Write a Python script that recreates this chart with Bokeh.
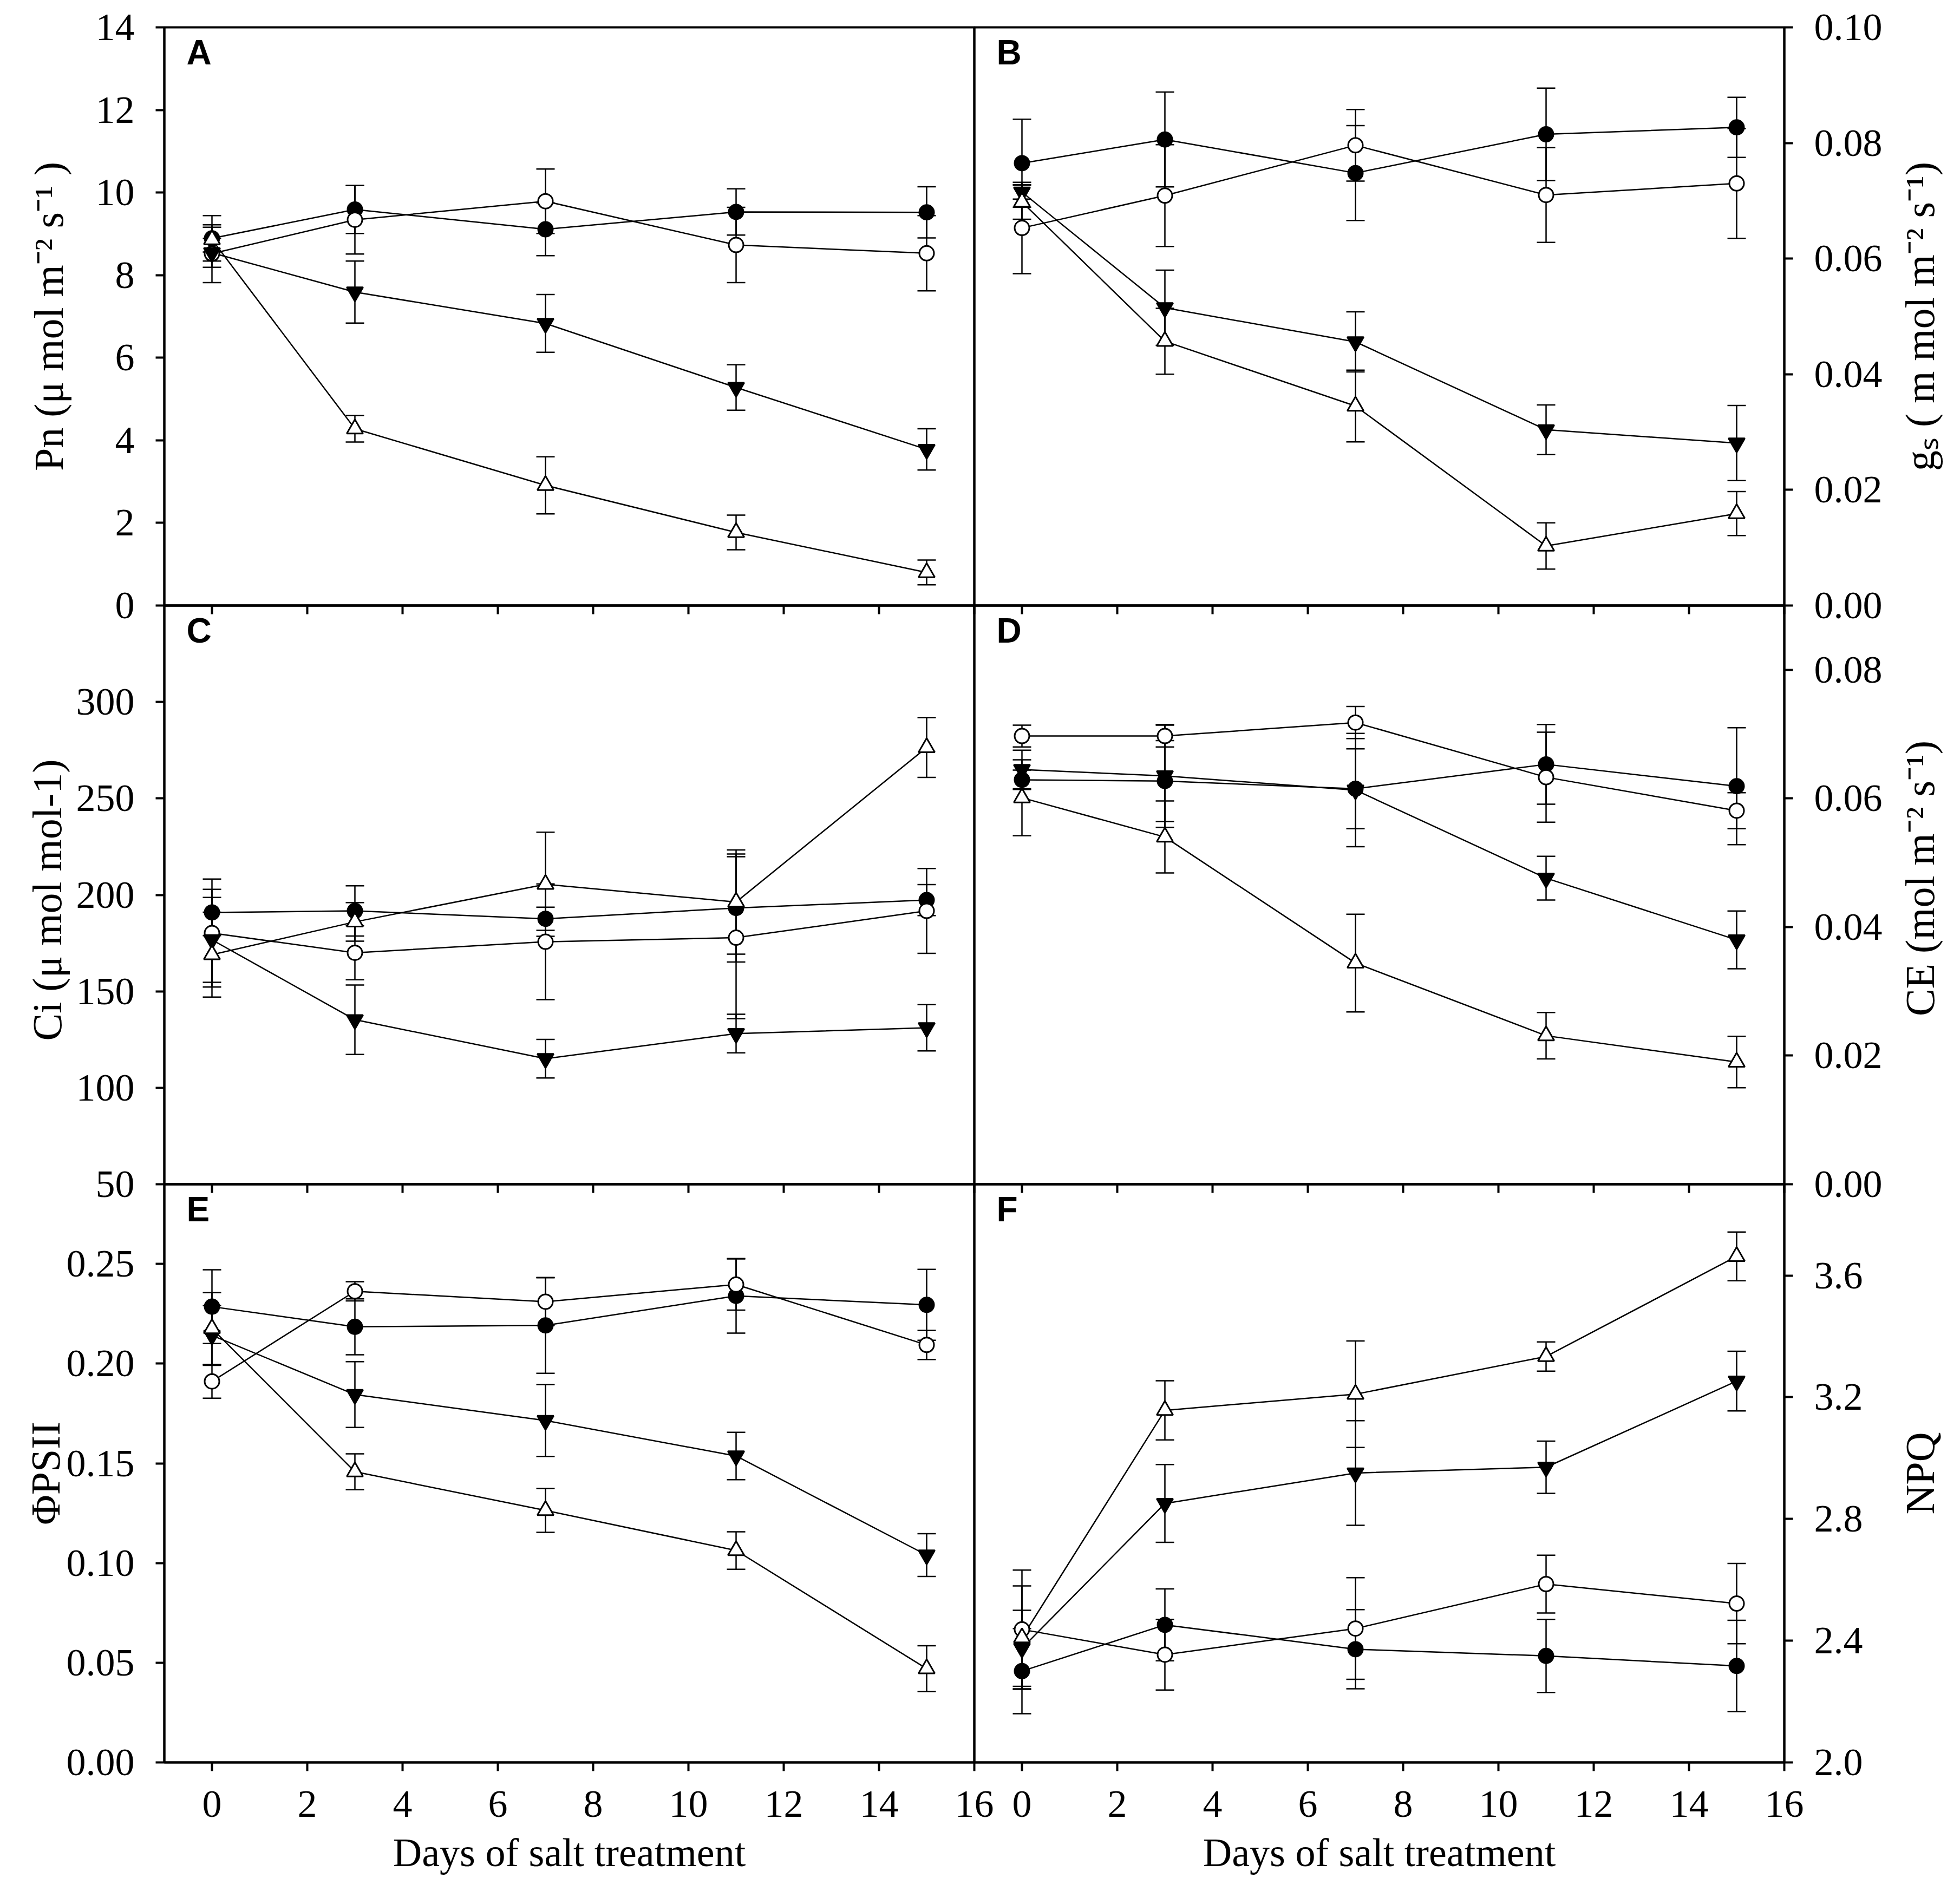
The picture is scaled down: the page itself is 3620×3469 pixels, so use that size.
import math
from bokeh.plotting import figure
from bokeh.models import (ColumnDataSource, Whisker, TeeHead, FixedTicker,
                          PrintfTickFormatter, Label, Range1d, CustomLabelingPolicy)
from bokeh.layouts import row, column
from bokeh.embed import file_html
from bokeh.resources import INLINE

# ---------------- data ----------------
DAYS = [0, 3, 7, 11, 15]
X_TICKS = [0, 2, 4, 6, 8, 10, 12, 14, 16]
X_START, X_END = -1, 16
X_LABEL = "Days of salt treatment"

# Pn
pn_fc = [8.89, 9.59, 9.11, 9.53, 9.52]
pn_fc_err = [0.55, 0.58, 0.64, 0.56, 0.62]
pn_oc = [8.52, 9.34, 9.79, 8.73, 8.53]
pn_oc_err = [0.70, 0.83, 0.78, 0.91, 0.91]
pn_dt = [8.54, 7.59, 6.83, 5.28, 3.78]
pn_dt_err = [0.35, 0.75, 0.70, 0.55, 0.50]
pn_ut = [8.86, 4.28, 2.91, 1.77, 0.80]
pn_ut_err = [0.30, 0.32, 0.69, 0.42, 0.30]

# gs
gs_fc = [0.0765, 0.0806, 0.0748, 0.0815, 0.0827]
gs_fc_err = [0.0076, 0.0082, 0.0082, 0.0080, 0.0052]
gs_oc = [0.0653, 0.0709, 0.0796, 0.0710, 0.0730]
gs_oc_err = [0.0079, 0.0088, 0.0062, 0.0082, 0.0095]
gs_dt = [0.0715, 0.0515, 0.0456, 0.0304, 0.0281]
gs_dt_err = [0.0012, 0.0065, 0.0052, 0.0043, 0.0065]
gs_ut = [0.0698, 0.0457, 0.0345, 0.0103, 0.0159]
gs_ut_err = [0.0030, 0.0057, 0.0062, 0.0040, 0.0038]

# Ci
ci_fc = [190.9, 191.7, 187.6, 193.2, 197.3]
ci_fc_err = [12, 13, 6, 28, 8]
ci_oc = [180.2, 170.0, 175.7, 177.8, 191.7]
ci_oc_err = [28, 14, 30, 42, 22]
ci_dt = [176.7, 135.3, 115.1, 128.1, 131.1]
ci_dt_err = [22, 18, 10, 10, 12]
ci_ut = [169.0, 186.0, 205.5, 196.3, 276.4]
ci_ut_err = [22, 10, 27, 27, 15.5]

# CE
ce_fc = [0.0629, 0.0627, 0.0615, 0.0653, 0.0619]
ce_fc_err = [0.0015, 0.0063, 0.0062, 0.0062, 0.0091]
ce_oc = [0.0697, 0.0697, 0.0718, 0.0633, 0.0581]
ce_oc_err = [0.0017, 0.0017, 0.0025, 0.0070, 0.0028]
ce_dt = [0.0645, 0.0635, 0.0613, 0.0476, 0.0380]
ce_dt_err = [0.0030, 0.0080, 0.0088, 0.0034, 0.0045]
ce_ut = [0.0601, 0.0540, 0.0344, 0.0231, 0.0190]
ce_ut_err = [0.0059, 0.0056, 0.0076, 0.0036, 0.0040]

# PhiPSII
ph_fc = [0.2286, 0.2185, 0.2192, 0.2340, 0.2295]
ph_fc_err = [0.0185, 0.014, 0.024, 0.0187, 0.0178]
ph_oc = [0.1911, 0.2363, 0.2311, 0.2397, 0.2094]
ph_oc_err = [0.0084, 0.0048, 0.012, 0.0128, 0.0073]
ph_dt = [0.2142, 0.1845, 0.1715, 0.1537, 0.1040]
ph_dt_err = [0.015, 0.0165, 0.018, 0.0119, 0.0107]
ph_ut = [0.2176, 0.1458, 0.1264, 0.1063, 0.0470]
ph_ut_err = [0.018, 0.009, 0.011, 0.0094, 0.0115]

# NPQ
npq_fc = [2.300, 2.452, 2.372, 2.350, 2.317]
npq_fc_err = [0.14, 0.118, 0.13, 0.12, 0.15]
npq_oc = [2.437, 2.354, 2.440, 2.586, 2.522]
npq_oc_err = [0.195, 0.116, 0.167, 0.095, 0.132]
npq_dt = [2.375, 2.851, 2.951, 2.970, 3.253]
npq_dt_err = [0.125, 0.128, 0.172, 0.086, 0.098]
npq_ut = [2.410, 3.157, 3.210, 3.334, 3.663]
npq_ut_err = [0.17, 0.097, 0.175, 0.048, 0.080]

PANELS = [
    dict(letter="A", side="left", rowi=0, yr=(0, 14), ticks=[0, 2, 4, 6, 8, 10, 12, 14], fmt="%d",
         label="Pn (μ mol m⁻² s⁻¹ )", lstd=42, lshift=0,
         series=[(pn_fc, pn_fc_err), (pn_oc, pn_oc_err), (pn_dt, pn_dt_err), (pn_ut, pn_ut_err)]),
    dict(letter="B", side="right", rowi=0, yr=(0, 0.10), ticks=[0.0, 0.02, 0.04, 0.06, 0.08, 0.10], fmt="%.2f",
         label="gₛ ( m mol m⁻² s⁻¹)", lstd=0, lshift=0,
         series=[(gs_fc, gs_fc_err), (gs_oc, gs_oc_err), (gs_dt, gs_dt_err), (gs_ut, gs_ut_err)]),
    dict(letter="C", side="left", rowi=1, yr=(50, 350), ticks=[50, 100, 150, 200, 250, 300], fmt="%d",
         label="Ci  (μ mol mol-1)", lstd=9, lshift=0,
         series=[(ci_fc, ci_fc_err), (ci_oc, ci_oc_err), (ci_dt, ci_dt_err), (ci_ut, ci_ut_err)]),
    dict(letter="D", side="right", rowi=1, yr=(0, 0.09), ticks=[0.0, 0.02, 0.04, 0.06, 0.08], fmt="%.2f",
         label="CE  (mol m⁻² s⁻¹)", lstd=0, lshift=40,
         series=[(ce_fc, ce_fc_err), (ce_oc, ce_oc_err), (ce_dt, ce_dt_err), (ce_ut, ce_ut_err)]),
    dict(letter="E", side="left", rowi=2, yr=(0, 0.29), ticks=[0.0, 0.05, 0.10, 0.15, 0.20, 0.25], fmt="%.2f",
         label="ΦPSII", lstd=-6, lshift=0,
         series=[(ph_fc, ph_fc_err), (ph_oc, ph_oc_err), (ph_dt, ph_dt_err), (ph_ut, ph_ut_err)]),
    dict(letter="F", side="right", rowi=2, yr=(2.0, 3.9), ticks=[2.0, 2.4, 2.8, 3.2, 3.6], fmt="%.1f",
         label="NPQ", lstd=0, lshift=0,
         series=[(npq_fc, npq_fc_err), (npq_oc, npq_oc_err), (npq_dt, npq_dt_err), (npq_ut, npq_ut_err)]),
]

MARKERS = [("circle", "black", 27), ("circle", "white", 27),
           ("inverted_triangle", "black", 30), ("triangle", "white", 30)]

SERIF = "Liberation Serif"
INK = "black"
TICK_FS = "72px"
FRAME_W = 1496
FRAME_H = [1068, 1069, 1068]
OVER_V = 45
OVER_H = 40
LABEL_COL_W = 110
LABEL_COL_SHIFT = -105

HIDE_ALL = "for (const i of indices) { indices.unset(i) }\nreturn indices"


def top_border(r):
    return 50 if r == 0 else OVER_V


def style_axis(ax):
    ax.major_tick_out = 16
    ax.major_tick_in = 0
    ax.major_tick_line_width = 4
    ax.major_tick_line_color = INK
    ax.minor_tick_line_color = None
    ax.axis_line_width = 4
    ax.axis_line_color = INK
    ax.major_label_text_font = SERIF
    ax.major_label_text_font_size = TICK_FS
    ax.major_label_text_color = INK
    ax.axis_label_text_font = SERIF
    ax.axis_label_text_font_style = "normal"
    ax.axis_label_text_color = INK


def make_panel(cfg):
    r = cfg["rowi"]
    left = cfg["side"] == "left"
    y0, y1 = cfg["yr"]
    bot_b = 190 if r == 2 else OVER_V
    p = figure(frame_width=FRAME_W, frame_height=FRAME_H[r],
               x_range=Range1d(X_START, X_END), y_range=Range1d(y0, y1),
               y_axis_location=cfg["side"],
               output_backend="svg", toolbar_location=None,
               min_border_left=303 if left else OVER_H,
               min_border_right=OVER_H if left else 300,
               min_border_top=top_border(r), min_border_bottom=bot_b)
    p.border_fill_color = None
    p.background_fill_color = None
    p.outline_line_color = INK
    p.outline_line_width = 4
    p.grid.visible = False

    ya = p.yaxis[0]
    style_axis(ya)
    ya.ticker = FixedTicker(ticks=cfg["ticks"])
    ya.formatter = PrintfTickFormatter(format=cfg["fmt"])
    ya.major_label_standoff = 39
    if left:
        ya.axis_label = cfg["label"]
        ya.axis_label_text_font_size = "76px"
        ya.axis_label_standoff = cfg["lstd"]

    xa = p.xaxis[0]
    style_axis(xa)
    xa.ticker = FixedTicker(ticks=X_TICKS)
    if r == 2:
        xa.major_label_standoff = 37
        xa.axis_label = X_LABEL
        xa.axis_label_text_font_size = "74px"
        xa.axis_label_standoff = 22
    else:
        xa.major_label_text_font_size = "0px"
        xa.major_label_standoff = 0
        xa.major_label_policy = CustomLabelingPolicy(code=HIDE_ALL)

    sources = []
    for vals, errs in cfg["series"]:
        src = ColumnDataSource(dict(
            x=DAYS, y=vals,
            lo=[v - e for v, e in zip(vals, errs)],
            hi=[v + e for v, e in zip(vals, errs)]))
        sources.append(src)
        w = Whisker(source=src, base="x", upper="hi", lower="lo", dimension="height",
                    line_width=2.5, line_color=INK, level="underlay",
                    upper_head=TeeHead(size=34, line_width=2.5, line_color=INK),
                    lower_head=TeeHead(size=34, line_width=2.5, line_color=INK))
        p.add_layout(w)
    for src in sources:
        p.line("x", "y", source=src, line_width=2.5, line_color=INK)
    for src, (mk, fill, size) in zip(sources, MARKERS):
        p.scatter("x", "y", source=src, marker=mk, size=size, fill_color=fill,
                  line_color=INK, line_width=3)

    p.add_layout(Label(x=X_START, y=y1, x_offset=41, y_offset=-10, text=cfg["letter"],
                       text_font="Liberation Sans", text_font_style="bold", text_color=INK,
                       text_font_size="64px", text_baseline="top", text_align="left"))
    return p


def make_right_title(cfg):
    """Narrow strip holding the right-hand axis title, reading bottom-to-top."""
    r = cfg["rowi"]
    y0, y1 = cfg["yr"]
    t = figure(frame_width=LABEL_COL_W, frame_height=FRAME_H[r],
               x_range=Range1d(0, 1), y_range=Range1d(y0, y1),
               x_axis_location=None, y_axis_location=None,
               output_backend="svg", toolbar_location=None,
               min_border_left=0, min_border_right=0,
               min_border_top=top_border(r), min_border_bottom=0)
    t.border_fill_color = None
    t.background_fill_color = None
    t.outline_line_color = None
    t.grid.visible = False
    t.add_layout(Label(x=0.5, y=(y0 + y1) / 2, y_offset=cfg["lshift"], text=cfg["label"],
                       angle=math.pi / 2, text_align="center", text_baseline="middle",
                       text_font=SERIF, text_font_size="76px", text_color=INK))
    t.margin = (0, 0, 0, LABEL_COL_SHIFT)
    return t


figs = [make_panel(c) for c in PANELS]
titles = {i: make_right_title(PANELS[i]) for i in (1, 3, 5)}
for i in (1, 3, 5):
    figs[i].margin = (0, 0, 0, -2 * OVER_H)
r1 = row(figs[0], figs[1], titles[1])
r2 = row(figs[2], figs[3], titles[3])
r3 = row(figs[4], figs[5], titles[5])
r2.margin = (-2 * OVER_V, 0, 0, 0)
r3.margin = (-2 * OVER_V, 0, 0, 0)
layout = column(r1, r2, r3)

open("out.html", "w").write(file_html(layout, INLINE))
